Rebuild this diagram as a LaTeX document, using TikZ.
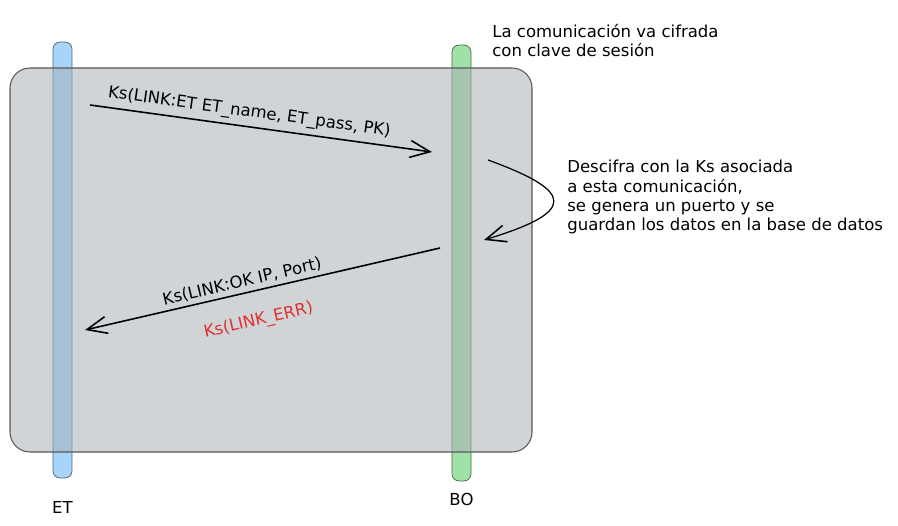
\documentclass[tikz,border=0pt]{standalone}
\usepackage{fontspec}
\setmainfont{DejaVu Sans}
\usetikzlibrary{arrows.meta,positioning}
\definecolor{etblue}{HTML}{A8D4F7}
\definecolor{bogreen}{HTML}{9FE1A7}
\definecolor{boxgray}{HTML}{A9B0B7}
\definecolor{errred}{HTML}{E03131}
\newcommand{\sketchfont}{\fontsize{9.4}{10.9}\selectfont}
\tikzset{
  lifeline/.style = {shape=rectangle, rounded corners=4pt, draw=#1!45!black,
                     fill=#1, minimum width=0.38cm, minimum height=8.72cm,
                     inner sep=0pt},
  sesion/.style   = {draw=black!65, fill=boxgray, fill opacity=0.55,
                     rounded corners=0.4cm, line width=0.6pt},
  msg/.style      = {draw, line width=0.9pt,
                     -{Straight Barb[length=4mm,width=3.4mm,line width=0.9pt]}},
  note/.style     = {align=left, font=\sketchfont, inner sep=0pt},
  actor/.style    = {font=\sketchfont, inner sep=0pt},
  msglabel/.style = {sloped, font=\sketchfont, inner sep=1pt}
}

\begin{document}
\begin{tikzpicture}[x=0.02cm, y=-0.02cm]
    \useasboundingbox (0,0) rectangle (898,526);
    % lifelines
    \node [lifeline=etblue] (et) at (62.5,260) {};
    \node [lifeline=bogreen] (bo) at (461.5,263) {};
    \node [actor, below=0.46cm of et] (etlabel) {ET};
    \node [actor, below=0.24cm of bo] (bolabel) {BO};
    % session box over both lifelines
    \draw [sesion] (10,68) rectangle (532,452);
    % messages
    \coordinate (m1s) at (90,105);
    \coordinate (m1e) at (432,152);
    \coordinate (m2s) at (440,248);
    \coordinate (m2e) at (85,330);
    \draw [msg] (m1s) -- node [msglabel, above=2pt, pos=0.46] (req)
      {Ks(LINK:ET ET\_name, ET\_pass, PK)} (m1e);
    \draw [msg] (m2s) -- node [msglabel, above=1pt, pos=0.55] (resok)
      {Ks(LINK:OK IP, Port)}
      node [msglabel, below=11pt, pos=0.53, text=errred] (reserr)
      {Ks(LINK\_ERR)} (m2e);
    % processing at BO
    \coordinate (p1) at (488,160);
    \coordinate (p2) at (484,240);
    \draw [msg, line width=0.7pt] (p1) .. controls (576,192) and (576,212) .. (p2);
    % notes
    \node [note, anchor=north west] (desc) at (567,160)
      {Descifra con la Ks asociada\\
       a esta comunicación,\\
       se genera un puerto y se\\
       guardan los datos en la base de datos};
    \node [note, anchor=north west] (cifrado) at (492,24)
      {La comunicación va cifrada\\
       con clave de sesión};
  \end{tikzpicture}
\end{document}
